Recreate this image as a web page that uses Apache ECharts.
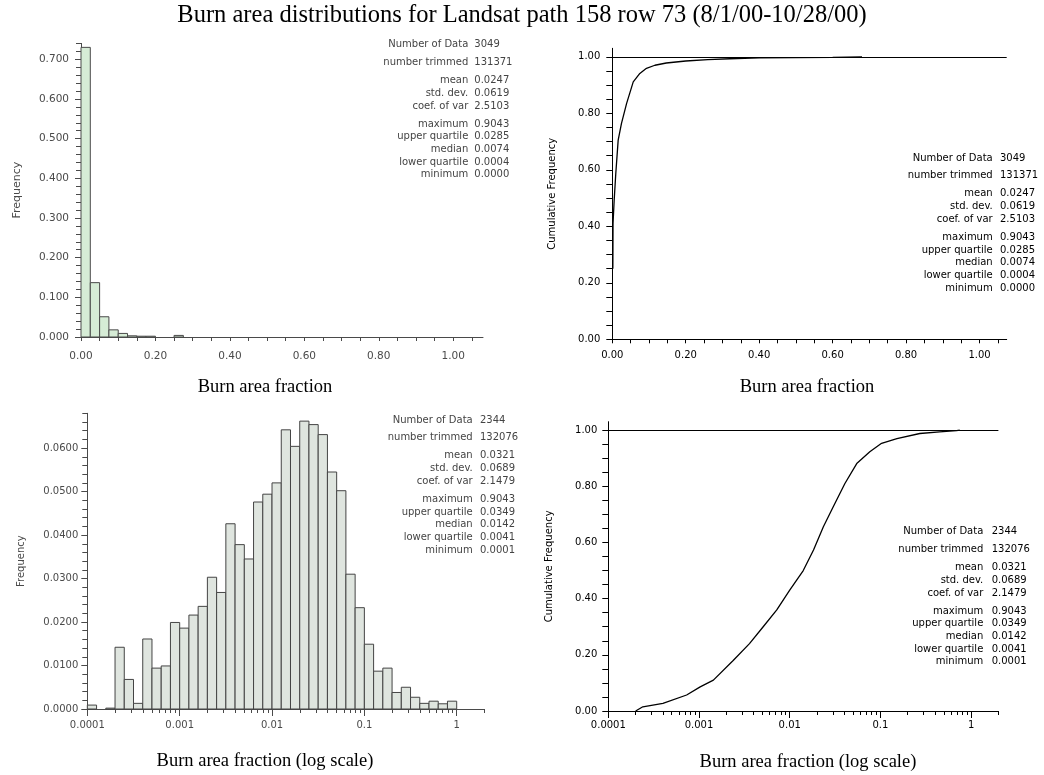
<!DOCTYPE html>
<html><head><meta charset="utf-8">
<script src="https://cdn.jsdelivr.net/npm/echarts@6/dist/echarts.min.js"></script>
<style>html,body{margin:0;padding:0;background:#fff}#c{width:1044px;height:775px}</style>
</head><body><div id="c"></div>
<script>
// ---------------- DATA ----------------
// Top-left histogram (linear bins, width 0.025)
const tlBinLo = [0, 0.025, 0.05, 0.075, 0.1, 0.125, 0.15, 0.175, 0.2, 0.225, 0.25];
const tlBinWidth = 0.025;
const tlFreq = [0.730, 0.137, 0.051, 0.018, 0.009, 0.003, 0.002, 0.002, 0, 0, 0.004];

// Bottom-left histogram (log bins, lower edge as log10 exponent, width 0.1 decade)
const blBinExp = [-4.0, -3.9, -3.8, -3.7, -3.6, -3.5, -3.4, -3.3, -3.2, -3.1,
                  -3.0, -2.9, -2.8, -2.7, -2.6, -2.5, -2.4, -2.3, -2.2, -2.1,
                  -2.0, -1.9, -1.8, -1.7, -1.6, -1.5, -1.4, -1.3, -1.2, -1.1,
                  -1.0, -0.9, -0.8, -0.7, -0.6, -0.5, -0.4, -0.3, -0.2, -0.1];
const blBinWidthExp = 0.1;
const blFreq = [0.0009, 0, 0.0002, 0.0142, 0.0068, 0.0013, 0.0161, 0.0094, 0.0099, 0.0199,
                0.0186, 0.0216, 0.0236, 0.0303, 0.0268, 0.0426, 0.0378, 0.0345, 0.0476, 0.0494,
                0.0520, 0.0642, 0.0604, 0.0662, 0.0654, 0.0631, 0.0545, 0.0502, 0.0310, 0.0233,
                0.0149, 0.0087, 0.0094, 0.0038, 0.0050, 0.0027, 0.0013, 0.0018, 0.0012, 0.0018];

// Top-right cumulative frequency (linear x)
const trX   = [0.0015, 0.002, 0.005, 0.0095, 0.016, 0.025, 0.039, 0.057, 0.075, 0.093, 0.116, 0.147, 0.2, 0.26, 0.32, 0.4, 0.5, 0.6, 0.68];
const trCum = [0.25, 0.41, 0.49, 0.587, 0.705, 0.764, 0.835, 0.911, 0.941, 0.959, 0.970, 0.978, 0.985, 0.990, 0.993, 0.996, 0.997, 0.998, 1.0];

// Bottom-right cumulative frequency (log x)
const brX   = [0.0002, 0.00024, 0.0004, 0.00073, 0.00103, 0.00144, 0.00238, 0.0036, 0.0051, 0.0072, 0.0100, 0.0141, 0.0183, 0.0235, 0.0302, 0.0406, 0.0548, 0.0764, 0.103, 0.152, 0.272, 0.45, 0.69, 0.75];
const brCum = [0.0, 0.015, 0.027, 0.057, 0.086, 0.11, 0.18, 0.24, 0.30, 0.36, 0.43, 0.50, 0.573, 0.656, 0.727, 0.81, 0.881, 0.923, 0.953, 0.970, 0.988, 0.994, 0.998, 1.0];

// Tick labels
const tlYTicks = [0, 0.1, 0.2, 0.3, 0.4, 0.5, 0.6, 0.7];
const tlYLabels = ['0.000', '0.100', '0.200', '0.300', '0.400', '0.500', '0.600', '0.700'];
const linXTicks = [0, 0.2, 0.4, 0.6, 0.8, 1.0];
const linXLabels = ['0.00', '0.20', '0.40', '0.60', '0.80', '1.00'];
const cumYTicks = [0, 0.2, 0.4, 0.6, 0.8, 1.0];
const cumYLabels = ['0.00', '0.20', '0.40', '0.60', '0.80', '1.00'];
const blYTicks = [0, 0.01, 0.02, 0.03, 0.04, 0.05, 0.06];
const blYLabels = ['0.0000', '0.0100', '0.0200', '0.0300', '0.0400', '0.0500', '0.0600'];
const logXTicks = [0.0001, 0.001, 0.01, 0.1, 1];
const logXLabels = ['0.0001', '0.001', '0.01', '0.1', '1'];

// Statistics text
const statNames = ['Number of Data', 'number trimmed', 'mean', 'std. dev.', 'coef. of var',
                   'maximum', 'upper quartile', 'median', 'lower quartile', 'minimum'];
const statsLinear = ['3049', '131371', '0.0247', '0.0619', '2.5103', '0.9043', '0.0285', '0.0074', '0.0004', '0.0000'];
const statsLog = ['2344', '132076', '0.0321', '0.0689', '2.1479', '0.9043', '0.0349', '0.0142', '0.0041', '0.0001'];

const titleText = 'Burn area distributions for Landsat path 158 row 73 (8/1/00-10/28/00)';
const captionLin = 'Burn area fraction';
const captionLog = 'Burn area fraction (log scale)';

// ---------------- HELPERS ----------------
const SANS = 'DejaVu Sans';
const SERIF = 'Liberation Serif';

function linMinors(step, maxV, majorStep) {
  const a = [];
  for (let i = 1; i * step <= maxV + 1e-9; i++) {
    const v = +(i * step).toFixed(6);
    const r = v / majorStep;
    if (Math.abs(r - Math.round(r)) > 1e-6) a.push(v);
  }
  return a;
}
function logMinors(maxV) {
  const a = [];
  for (let d = -4; d <= 0; d++) {
    for (let m = 2; m <= 9; m++) {
      const v = +(m * Math.pow(10, d)).toPrecision(6);
      if (v <= maxV) a.push(v);
    }
  }
  return a;
}
function lookup(ticks, labels) {
  return function (v) {
    for (let i = 0; i < ticks.length; i++) {
      if (Math.abs(ticks[i] - v) <= 1e-7 * Math.max(1e-4, Math.abs(ticks[i]))) return labels[i];
    }
    return '';
  };
}

const xAxes = [], yAxes = [];
function addAxisPair(list, dim, cfg) {
  const isX = dim === 'x';
  const main = {
    type: cfg.type, gridIndex: cfg.grid, min: cfg.min, max: cfg.max,
    position: isX ? 'bottom' : 'left',
    axisLine: { show: true, onZero: false, lineStyle: { color: cfg.color, width: 1 } },
    axisTick: { show: true, customValues: cfg.majors, length: cfg.majorLen, lineStyle: { color: cfg.color, width: 1 } },
    axisLabel: {
      show: true, customValues: cfg.majors, formatter: lookup(cfg.majors, cfg.labels),
      margin: cfg.margin, fontFamily: SANS, fontSize: cfg.fontSize, color: cfg.color,
      padding: isX ? 0 : [0, 0, 6, 0]
    },
    splitLine: { show: false }
  };
  if (cfg.type === 'log') main.logBase = 10;
  if (cfg.name) {
    Object.assign(main, {
      name: cfg.name, nameLocation: 'middle', nameGap: cfg.nameGap, nameRotate: 90,
      nameTextStyle: { fontFamily: SANS, fontSize: cfg.nameSize, color: cfg.color }
    });
  }
  const minor = {
    type: cfg.type, gridIndex: cfg.grid, min: cfg.min, max: cfg.max,
    position: isX ? 'bottom' : 'left',
    axisLine: { show: false, onZero: false },
    axisTick: { show: true, customValues: cfg.minors, length: cfg.minorLen, lineStyle: { color: cfg.color, width: 1 } },
    axisLabel: { show: false },
    splitLine: { show: false }
  };
  if (cfg.type === 'log') minor.logBase = 10;
  list.push(main, minor);
  return list.length - 2;
}

const LEFTC = '#4a4a4a';
const RIGHTC = '#000';

// Grid 0: top-left
const x0 = addAxisPair(xAxes, 'x', { grid: 0, type: 'value', min: 0, max: 1.08, majors: linXTicks, labels: linXLabels,
  minors: linMinors(0.05, 1.08, 0.2), majorLen: 4, minorLen: 4, margin: 14, fontSize: 10.5, color: LEFTC });
const y0 = addAxisPair(yAxes, 'y', { grid: 0, type: 'value', min: 0, max: 0.74, majors: tlYTicks, labels: tlYLabels,
  minors: linMinors(0.02, 0.74, 0.1), majorLen: 6, minorLen: 5, margin: 12, fontSize: 10.5, color: LEFTC,
  name: 'Frequency', nameGap: 58, nameSize: 11 });
// Grid 1: top-right
const x1 = addAxisPair(xAxes, 'x', { grid: 1, type: 'value', min: 0, max: 1.074, majors: linXTicks, labels: linXLabels,
  minors: linMinors(0.05, 1.074, 0.2), majorLen: 4, minorLen: 4, margin: 11, fontSize: 10, color: RIGHTC });
const y1 = addAxisPair(yAxes, 'y', { grid: 1, type: 'value', min: 0, max: 1.03, majors: cumYTicks, labels: cumYLabels,
  minors: linMinors(0.05, 1.0, 0.2), majorLen: 6, minorLen: 6, margin: 12, fontSize: 10, color: RIGHTC,
  name: 'Cumulative Frequency', nameGap: 55, nameSize: 10 });
// Grid 2: bottom-left
const x2 = addAxisPair(xAxes, 'x', { grid: 2, type: 'log', min: 0.0000999, max: 2, majors: logXTicks, labels: logXLabels,
  minors: logMinors(2), majorLen: 7, minorLen: 4, margin: 11, fontSize: 10, color: LEFTC });
const y2 = addAxisPair(yAxes, 'y', { grid: 2, type: 'value', min: 0, max: 0.068, majors: blYTicks, labels: blYLabels,
  minors: linMinors(0.002, 0.068, 0.01), majorLen: 6, minorLen: 5, margin: 9, fontSize: 10, color: LEFTC,
  name: 'Frequency', nameGap: 61, nameSize: 10 });
// Grid 3: bottom-right
const x3 = addAxisPair(xAxes, 'x', { grid: 3, type: 'log', min: 0.0000999, max: 2, majors: logXTicks, labels: logXLabels,
  minors: logMinors(2), majorLen: 7, minorLen: 4, margin: 9, fontSize: 10, color: RIGHTC });
const y3 = addAxisPair(yAxes, 'y', { grid: 3, type: 'value', min: 0, max: 1.03, majors: cumYTicks, labels: cumYLabels,
  minors: linMinors(0.05, 1.0, 0.2), majorLen: 6, minorLen: 6, margin: 11, fontSize: 10, color: RIGHTC,
  name: 'Cumulative Frequency', nameGap: 54, nameSize: 10 });

function histRender(fill, stroke) {
  return function (params, api) {
    const v = api.value(2);
    if (!(v > 0)) return null;
    const p0 = api.coord([api.value(0), 0]);
    const p1 = api.coord([api.value(1), v]);
    return {
      type: 'rect',
      shape: { x: p0[0], y: p1[1], width: p1[0] - p0[0], height: p0[1] - p1[1] },
      style: { fill: fill, stroke: stroke, lineWidth: 1 }
    };
  };
}

// Stats graphics
function statBlock(values, baseY, labelRight, valueLeft, color) {
  const offs = [0, 17.5, 35.5, 48.5, 61.5, 79.5, 92, 104.5, 117.5, 130];
  const els = [];
  statNames.forEach((n, i) => {
    els.push({ type: 'text', x: labelRight, y: baseY + offs[i],
      style: { text: n, align: 'right', verticalAlign: 'middle', font: '10px "' + SANS + '"', fill: color } });
    els.push({ type: 'text', x: valueLeft, y: baseY + offs[i],
      style: { text: values[i], align: 'left', verticalAlign: 'middle', font: '10px "' + SANS + '"', fill: color } });
  });
  return els;
}
function caption(text, cx, cy) {
  return { type: 'text', x: cx, y: cy,
    style: { text: text, align: 'center', verticalAlign: 'middle', font: '18.5px "' + SERIF + '"', fill: '#000' } };
}

const graphics = [
  { type: 'text', x: 522, y: 16, style: { text: titleText, align: 'center', verticalAlign: 'middle', font: '24.5px "' + SERIF + '"', fill: '#000' } },
  caption(captionLin, 265, 387),
  caption(captionLin, 807, 387),
  caption(captionLog, 265, 761),
  caption(captionLog, 808, 762)
].concat(
  statBlock(statsLinear, 44.5, 468.3, 474.3, '#444'),
  statBlock(statsLinear, 158.3, 992.7, 1000, '#000'),
  statBlock(statsLog, 420, 472.7, 480, '#444'),
  statBlock(statsLog, 531.7, 983.3, 991.7, '#000')
);

const markOne = {
  silent: true, symbol: 'none', label: { show: false },
  lineStyle: { color: '#000', width: 1, type: 'solid' },
  emphasis: { disabled: true },
  data: [{ yAxis: 1 }]
};

const option = {
  animation: false,
  backgroundColor: '#fff',
  grid: [
    { left: 81, top: 43.4, width: 402, height: 293.6 },
    { left: 612.3, top: 48.3, width: 394.4, height: 291 },
    { left: 87.3, top: 413.3, width: 397.2, height: 295.7 },
    { left: 608.3, top: 421.7, width: 390.1, height: 289.3 }
  ],
  xAxis: xAxes,
  yAxis: yAxes,
  graphic: graphics,
  series: [
    {
      type: 'custom', xAxisIndex: x0, yAxisIndex: y0,
      renderItem: histRender('#d6ecd6', '#4a4a4a'),
      encode: { x: [0, 1], y: 2 },
      data: tlBinLo.map((lo, i) => [lo, lo + tlBinWidth, tlFreq[i]])
    },
    {
      type: 'line', xAxisIndex: x1, yAxisIndex: y1,
      showSymbol: false, symbol: 'none',
      lineStyle: { color: '#000', width: 1.3 },
      data: trX.map((x, i) => [x, trCum[i]]),
      markLine: markOne
    },
    {
      type: 'custom', xAxisIndex: x2, yAxisIndex: y2,
      renderItem: histRender('#dfe5df', '#444'),
      encode: { x: [0, 1], y: 2 },
      data: blBinExp.map((e, i) => [Math.pow(10, e), Math.pow(10, e + blBinWidthExp), blFreq[i]])
    },
    {
      type: 'line', xAxisIndex: x3, yAxisIndex: y3,
      showSymbol: false, symbol: 'none',
      lineStyle: { color: '#000', width: 1.3 },
      data: brX.map((x, i) => [x, brCum[i]]),
      markLine: markOne
    }
  ]
};

const chart = echarts.init(document.getElementById('c'), null, { renderer: 'canvas' });
chart.setOption(option);
</script>
</body></html>
